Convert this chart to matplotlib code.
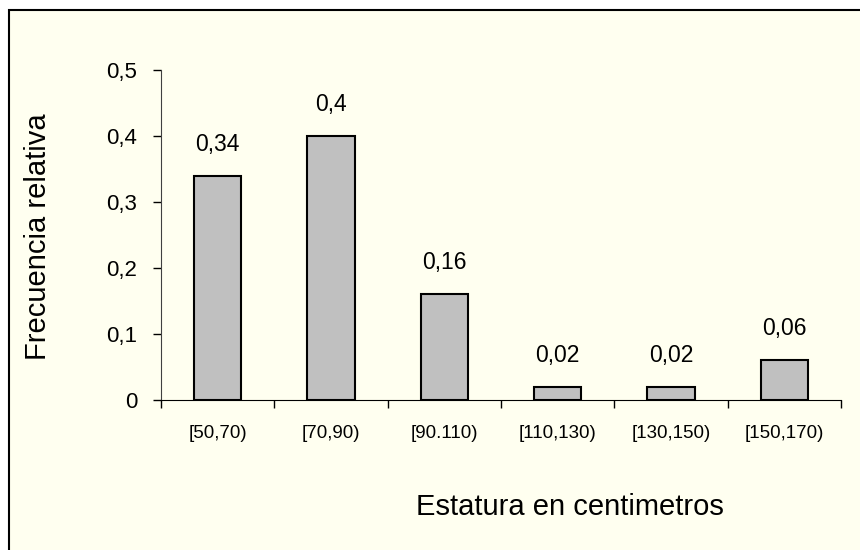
import matplotlib.pyplot as plt
from matplotlib.patches import Rectangle
import numpy as np

CATEGORIES = ["[50,70)", "[70,90)", "[90.110)", "[110,130)", "[130,150)", "[150,170)"]
VALUES = [0.34, 0.4, 0.16, 0.02, 0.02, 0.06]
VALUE_LABELS = ["0,34", "0,4", "0,16", "0,02", "0,02", "0,06"]
YTICKS = [0, 0.1, 0.2, 0.3, 0.4, 0.5]
YTICK_LABELS = ["0", "0,1", "0,2", "0,3", "0,4", "0,5"]

plt.rcParams["font.family"] = ["Liberation Sans", "DejaVu Sans"]


def run():
    fig = plt.figure(figsize=(8.6, 5.5), dpi=100)
    fig.patch.set_facecolor("white")

    # cream panel with black frame, running off the right and bottom edges
    frame = Rectangle((9 / 860, -0.05), 1.0, 1 - 10 / 550 + 0.05,
                      transform=fig.transFigure, facecolor="#FFFFF0",
                      edgecolor="black", linewidth=1.5, zorder=-10)
    fig.patches.append(frame)

    ax = fig.add_axes([161 / 860, 1 - 400 / 550, 680 / 860, 330 / 550])
    ax.set_facecolor("none")

    x = np.arange(len(VALUES))
    ax.bar(x, VALUES, width=0.42, color="#C0C0C0", edgecolor="black",
           linewidth=1.5, zorder=3)

    for xi, v, lab in zip(x, VALUES, VALUE_LABELS):
        ax.annotate(lab, (xi, v), xytext=(0, 18), textcoords="offset points",
                    ha="center", va="baseline", fontsize=16.5)

    ax.set_xlim(-0.5, len(VALUES) - 0.5)
    ax.set_ylim(0, 0.5)

    ax.set_yticks(YTICKS)
    ax.set_yticklabels(YTICK_LABELS, fontsize=16)
    ax.set_xticks(x)
    ax.set_xticklabels(CATEGORIES, fontsize=13.5)
    ax.set_xticks(np.arange(len(VALUES) + 1) - 0.5, minor=True)
    ax.tick_params(axis="x", which="major", length=0, pad=18)
    ax.tick_params(axis="x", which="minor", length=6, width=1, direction="out")
    ax.tick_params(axis="y", length=6, width=1, direction="out", pad=11)

    for side in ("top", "right"):
        ax.spines[side].set_visible(False)
    ax.spines["left"].set_color("#404040")
    ax.spines["bottom"].set_color("black")

    fig.text(570 / 860, 1 - 507 / 550, "Estatura en centimetros",
             ha="center", va="center", fontsize=21)
    fig.text(38 / 860, 1 - 237 / 550, "Frecuencia relativa",
             ha="center", va="center", rotation=90, fontsize=21)

    fig.savefig("out.png", dpi=100, facecolor=fig.get_facecolor())


if __name__ == "__main__":
    run()
